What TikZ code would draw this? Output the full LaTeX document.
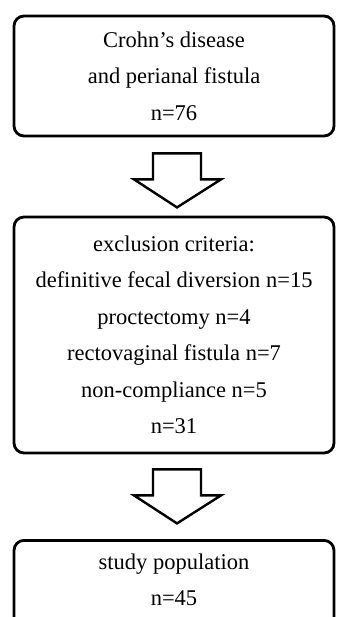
\documentclass[tikz,border=0pt]{standalone}
\usepackage{fontspec}
\setmainfont{Liberation Serif}
\usetikzlibrary{calc}
\begin{document}
\begin{tikzpicture}[x=1pt,y=-1pt,
  box/.style={draw, line width=2.8pt, rounded corners=10pt, minimum width=320pt, align=center, inner sep=0pt, font=\fontsize{22.5}{36.5}\selectfont},
  txt/.style={align=center, inner sep=0pt, font=\fontsize{22.5}{36.5}\selectfont},
  blockarrow/.style={draw, line width=2.4pt, line join=miter, fill=white}]
\useasboundingbox (0,0) rectangle (338,617);
\clip (0,0) rectangle (338,617);
\node[box, minimum height=120pt] (b1) at (174,76) {Crohn’s disease\\and perianal fistula\\n=76};
\node[box, minimum height=236pt] (b2) at (174,335) {exclusion criteria:\\definitive fecal diversion n=15\\proctectomy n=4\\rectovaginal fistula n=7\\non-compliance n=5\\n=31};
\node[box, minimum height=120pt, anchor=north] (b3) at (174,539) {};
\node[txt] (t3) at (174,580) {study population\\n=45};
\coordinate (a1) at ($(b1.south)+(3,16)$);
\coordinate (a2) at ($(b2.south)+(3,15)$);
\foreach \a in {a1,a2}{
  \draw[blockarrow] (\a) ++(-24,0) -- ++(48,0) -- ++(0,26) -- ++(20,0) -- ++(-44,28) -- ++(-43,-28) -- ++(19,0) -- cycle;
}
\end{tikzpicture}
\end{document}
